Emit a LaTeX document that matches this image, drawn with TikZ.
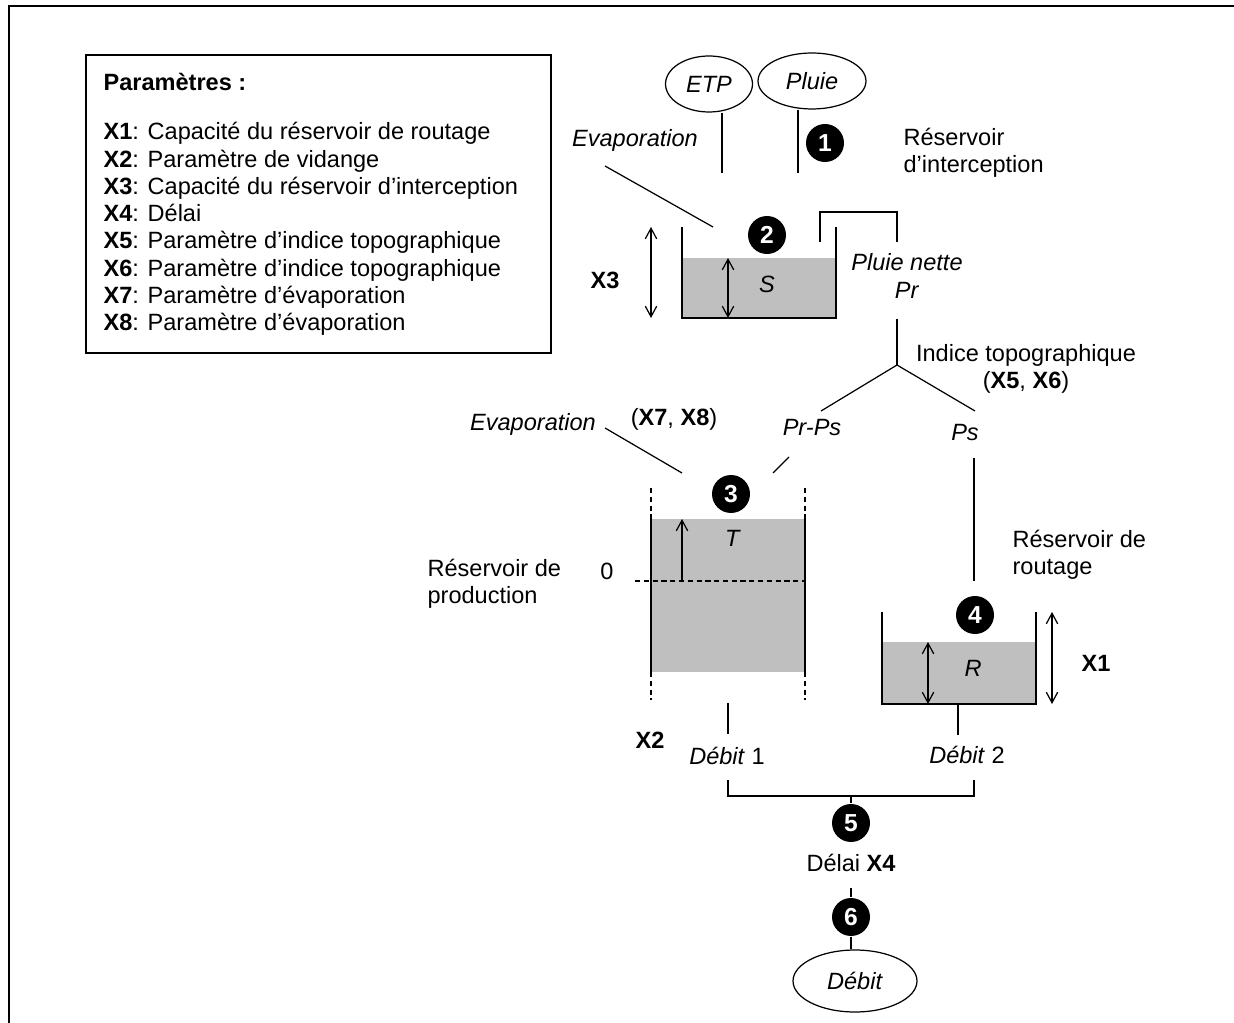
\documentclass[tikz,border=0pt]{standalone}
\usepackage{fontspec}
\setmainfont{Liberation Sans}
\usetikzlibrary{shapes.geometric}
\usetikzlibrary{arrows.meta}
\usetikzlibrary{positioning}

\tikzset{
    num/.style={circle, fill=black, text=white, font=\fontsize{14}{16}\selectfont\bfseries, minimum size=0.76cm, inner sep=0pt},
    cloud/.style={ellipse, draw, minimum height=1.12cm, inner sep=0pt},
    water/.style={fill=black!25},
    dbl/.style={{Straight Barb[length=6pt,width=6.5pt]}-{Straight Barb[length=6pt,width=6.5pt]}},
    up/.style={-{Straight Barb[length=6pt,width=6.5pt]}},
    dsh/.style={dash pattern=on 3pt off 2pt},
}

\begin{document}
\begin{tikzpicture}[x=0.02cm, y=-0.02cm, line width=0.7pt,
    every node/.append style={font=\fontsize{13.4}{15.5}\selectfont}]
    \useasboundingbox (0,0) rectangle (1234,1023);
    \draw[line width=1.3pt] (9,1023) -- (9,6) -- (1234,6);

    % parametres
    \draw (86,55) rectangle (551,353);
    \node[anchor=west, inner sep=0pt] (ptitle) at (103,82) {\textbf{Paramètres :}};
    \node[anchor=west, align=left, inner sep=0pt] (plist) at (103,229) {%
        \textbf{X1}: Capacité du réservoir de routage\\
        \textbf{X2}: Paramètre de vidange\\
        \textbf{X3}: Capacité du réservoir d’interception\\
        \textbf{X4}: Délai\\
        \textbf{X5}: Paramètre d’indice topographique\\
        \textbf{X6}: Paramètre d’indice topographique\\
        \textbf{X7}: Paramètre d’évaporation\\
        \textbf{X8}: Paramètre d’évaporation};

    % entrees
    \node[cloud, minimum width=1.74cm] (etp) at (709,84) {\textit{ETP}};
    \node[cloud, minimum width=2.16cm] (pluie) at (812,81) {\textit{Pluie}};
    \coordinate (etpend) at (722,173);
    \coordinate (pluieend) at (798,173);
    \draw (etpend |- etp.south) -- (etpend);
    \draw (pluieend |- pluie.south) -- (pluieend);
    \node[num] (n1) at (825,143) {1};
    \node (evap1) at (635,140) {\textit{Evaporation}};
    \node[anchor=west, align=left, inner sep=0pt] (rint) at (903,153) {Réservoir\\d’interception};
    \coordinate (ev1a) at (605,166);
    \coordinate (ev1b) at (713,227);
    \draw (ev1a) -- (ev1b);

    % reservoir d'interception
    \fill[water] (682,258) rectangle (836,318);
    \draw (682,227) -- (682,318) -- (836,318) -- (836,227);
    \draw[dbl] (728,258) -- (728,318);
    \node (S) at (767,284) {\textit{S}};
    \draw[dbl] (651,227) -- (651,318);
    \node (x3) at (605,280) {\textbf{X3}};
    \node[num] (n2) at (767,235) {2};
    \draw (820,242) -- (820,212) -- (897,212) -- (897,242);
    \node[align=center] (pnette) at (907,276) {\textit{Pluie nette}\\\textit{Pr}};

    % partage
    \coordinate (prtop) at (897,319);
    \coordinate (fork) at (897,365);
    \coordinate (forkl) at (821,411);
    \coordinate (forkr) at (975,411);
    \draw (prtop) -- (fork);
    \draw (forkl) -- (fork) -- (forkr);
    \node[align=center] (indice) at (1026,369) {Indice topographique\\(\textbf{X5}, \textbf{X6})};
    \node (prps) at (812,428) {\textit{Pr-Ps}};
    \node (ps) at (965,433) {\textit{Ps}};

    % reservoir de production
    \fill[water] (651,519) rectangle (805,672);
    \draw (651,519) -- (651,672);
    \draw (805,519) -- (805,672);
    \draw[dsh] (651,488) -- (651,519);
    \draw[dsh] (805,488) -- (805,519);
    \draw[dsh] (651,672) -- (651,700);
    \draw[dsh] (805,672) -- (805,700);
    \draw[dsh] (635,581) -- (805,581);
    \draw[up] (682,581) -- (682,519);
    \node (T) at (733,538) {\textit{T}};
    \node[num] (n3) at (731,494) {3};
    \node (evap2) at (533,424) {\textit{Evaporation}};
    \node (x78) at (674,419) {(\textbf{X7}, \textbf{X8})};
    \coordinate (ev2a) at (605,428);
    \coordinate (ev2b) at (682,473);
    \draw (ev2a) -- (ev2b);
    \coordinate (prpsa) at (789,457);
    \coordinate (prpsb) at (773,473);
    \draw (prpsa) -- (prpsb);
    \node (zero) at (607,571) {0};
    \node[anchor=west, align=left, inner sep=0pt] (rprod) at (427,584) {Réservoir de\\production};
    \node (x2) at (650,740) {\textbf{X2}};

    % reservoir de routage
    \coordinate (psa) at (974,458);
    \coordinate (psb) at (974,581);
    \draw (psa) -- (psb);
    \node[anchor=west, align=left, inner sep=0pt] (rrout) at (1012,555) {Réservoir de\\routage};
    \fill[water] (882,642) rectangle (1036,704);
    \draw (882,612) -- (882,704) -- (1036,704) -- (1036,612);
    \draw[dbl] (928,642) -- (928,704);
    \node (R) at (973,668) {\textit{R}};
    \draw[dbl] (1052,612) -- (1052,704);
    \node (x1) at (1096,663) {\textbf{X1}};
    \node[num] (n4) at (975,615) {4};

    % debits
    \node (d1) at (727,756) {\textit{Débit} 1};
    \node (d2) at (967,755) {\textit{Débit} 2};
    \coordinate (d1top) at (728,703);
    \coordinate (d2top) at (958,704);
    \draw (d1top) -- (728,734);
    \draw (d2top) -- (958,735);
    \draw (728,780) -- (728,796) -- (974,796) -- (974,780);
    \node[num] (n5) at (851,823) {5};
    \draw (851,796) -- (n5);
    \node (delai) at (851,863) {Délai \textbf{X4}};
    \node[num] (n6) at (851,917) {6};
    \node[ellipse, draw, minimum width=2.48cm, minimum height=1.24cm, inner sep=0pt] (debit) at (855,981) {\textit{Débit}};
    \draw (851,888) -- (n6);
    \draw (n6) -- (n6 |- debit.north);
\end{tikzpicture}
\end{document}
